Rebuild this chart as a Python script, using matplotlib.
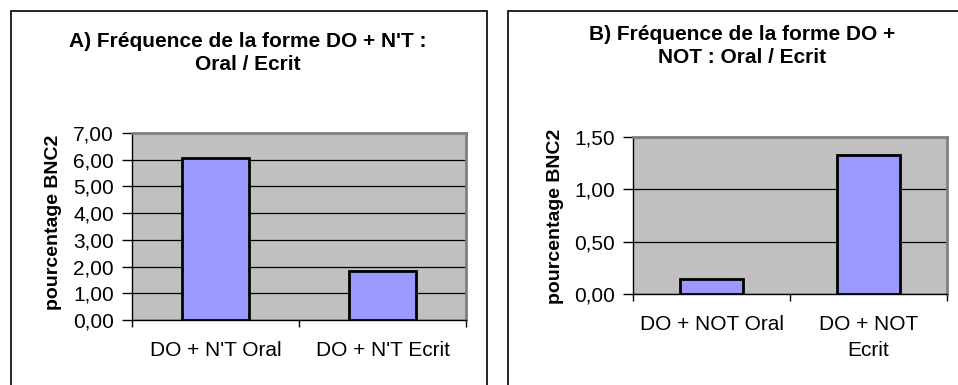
import matplotlib.pyplot as plt
from matplotlib.patches import Rectangle

plt.rcParams['font.family'] = ['Liberation Sans', 'DejaVu Sans']

# Données
cats_a = ["DO + N'T Oral", "DO + N'T Ecrit"]
vals_a = [6.07, 1.83]
ticks_a = [0, 1, 2, 3, 4, 5, 6, 7]

cats_b = ["DO + NOT Oral", "DO + NOT\nEcrit"]
vals_b = [0.14, 1.33]
ticks_b = [0, 0.5, 1.0, 1.5]

titles = ["A) Fréquence de la forme DO + N'T :\nOral / Ecrit",
          "B) Fréquence de la forme DO +\nNOT : Oral / Ecrit"]
ylabel = "pourcentage BNC2"

W, H = 958, 385
fig = plt.figure(figsize=(W / 100, H / 100), dpi=100)


def box(x0, y0, x1, y1):
    # pixels (origine en haut à gauche) -> coordonnées figure
    return [x0 / W, (H - y1) / H, (x1 - x0) / W, (y1 - y0) / H]


def fr(v):
    return f"{v:.2f}".replace('.', ',')


# cadres des deux graphiques
for x0, x1 in [(11, 487), (508, 975)]:
    fig.patches.append(Rectangle((x0 / W, -0.1), (x1 - x0) / W, (H + 40 - 12) / H,
                                 transform=fig.transFigure, fill=False,
                                 edgecolor='black', linewidth=1.2))

panels = [
    (cats_a, vals_a, ticks_a, box(132, 133, 466, 320), 248, 53, 54, 222),
    (cats_b, vals_b, ticks_b, box(633, 137, 947, 294), 742, 46, 555, 216),
]

for i, (cats, vals, ticks, rect, tx, ty, lx, ly) in enumerate(panels):
    ax = fig.add_axes(rect)
    ax.set_facecolor('#C0C0C0')
    ax.bar(range(len(cats)), vals, width=0.4, color='#9999FF',
           edgecolor='black', linewidth=2, zorder=3)
    ax.set_xlim(-0.5, len(cats) - 0.5)
    ax.set_ylim(ticks[0], ticks[-1])
    ax.set_yticks(ticks)
    ax.set_yticklabels([fr(t) for t in ticks], fontsize=15)
    ax.yaxis.grid(True, color='black', linewidth=0.9, zorder=1)
    ax.set_axisbelow(True)

    ax.set_xticks(range(len(cats)))
    ax.set_xticklabels(cats, fontsize=15, linespacing=1.45)
    ax.tick_params(axis='x', length=0, pad=15)
    # petites graduations entre les catégories
    ax.set_xticks([-0.5, 0.5, 1.5], minor=True)
    ax.tick_params(axis='x', which='minor', length=5, width=1, direction='out')
    ax.tick_params(axis='y', length=7, width=1, direction='out', pad=6)

    for s in ['top', 'right']:
        ax.spines[s].set_color('#808080')
        ax.spines[s].set_linewidth(2)
    for s in ['left', 'bottom']:
        ax.spines[s].set_color('black')
        ax.spines[s].set_linewidth(1)

    fig.text(tx / W, 1 - ty / H, titles[i], ha='center', va='center',
             fontsize=15, fontweight='bold', linespacing=1.25)
    fig.text(lx / W, 1 - ly / H, ylabel, ha='center', va='center',
             rotation=90, fontsize=14, fontweight='bold')

fig.savefig('out.png', dpi=100, facecolor='white')
